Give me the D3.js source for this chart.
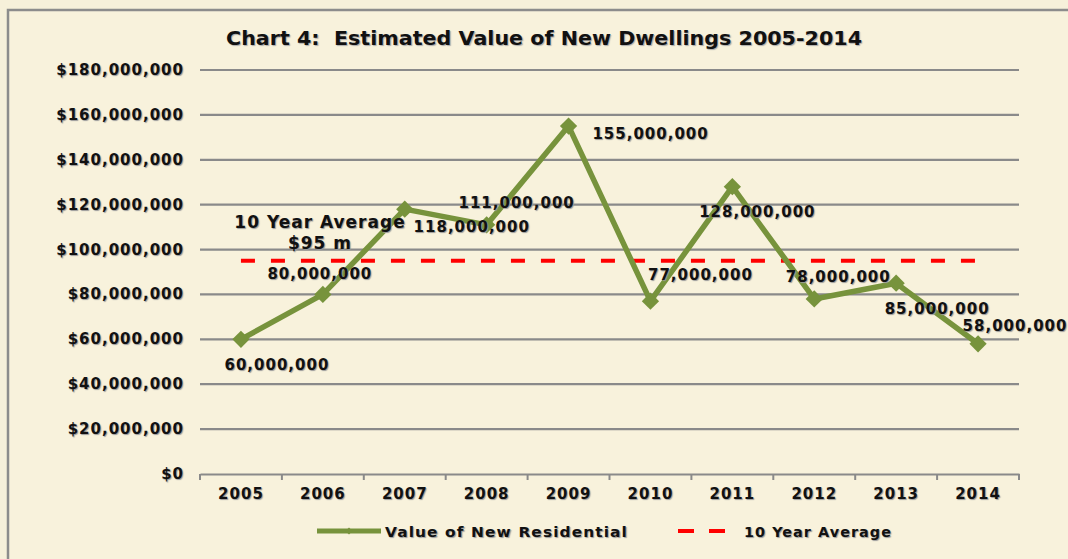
<!DOCTYPE html>
<html>
<head>
<meta charset="utf-8">
<script src="https://cdn.jsdelivr.net/npm/d3@7"></script>
<style>
  html, body { margin: 0; padding: 0; background: #f6f0da; }
  svg { display: block; font-family: "DejaVu Sans", sans-serif; }
  .lbl { text-shadow: 1px 1px 1px #9a9a9a; letter-spacing: 1px; }
</style>
</head>
<body>
<svg id="chart" width="1068" height="559"></svg>
<script>
const years = ["2005","2006","2007","2008","2009","2010","2011","2012","2013","2014"];
const values = [60000000, 80000000, 118000000, 111000000, 155000000, 77000000, 128000000, 78000000, 85000000, 58000000];
const average = 95000000;
const yTicks = [0, 20000000, 40000000, 60000000, 80000000, 100000000, 120000000, 140000000, 160000000, 180000000];
// label offsets from each point, as placed in the original
const labelOffsets = [[36, 26], [-3, -20], [67, 18], [30, -22], [82, 8], [50, -26], [25, 25], [24, -22], [41, 26], [37, -18]];

const svg = d3.select("#chart");
const green = "#77933c";
const red = "#ff0000";
const margin = {left: 200, right: 1019, top: 70, bottom: 474};

const x = d3.scaleBand().domain(years).range([margin.left, margin.right]);
const y = d3.scaleLinear().domain([0, 180000000]).range([margin.bottom, margin.top]);

// outer frame
svg.append("rect").attr("x", 8).attr("y", 10).attr("width", 1080).attr("height", 580)
  .attr("fill", "#f8f2dc").attr("stroke", "#8c8c8c").attr("stroke-width", 2.5);

svg.append("text").attr("x", 226).attr("y", 45)
  .attr("font-size", 19).attr("font-weight", "bold").attr("fill", "#111")
  .attr("textLength", 636).attr("lengthAdjust", "spacingAndGlyphs")
  .style("text-shadow", "1px 1px 1px #aaa").style("white-space", "pre")
  .text("Chart 4:  Estimated Value of New Dwellings 2005-2014");

// gridlines
svg.append("g").selectAll("line").data(yTicks.slice(1)).join("line")
  .attr("x1", margin.left).attr("x2", margin.right)
  .attr("y1", d => y(d)).attr("y2", d => y(d))
  .attr("stroke", "#8a8a8a").attr("stroke-width", 2.2);

// y axis labels
const fmt = d => "$" + d3.format(",")(d);
svg.append("g").selectAll("text").data(yTicks).join("text")
  .attr("class", "lbl")
  .attr("x", 184).attr("y", d => y(d) + 5).attr("text-anchor", "end")
  .attr("font-size", 15).attr("font-weight", "bold").attr("fill", "#111")
  .text(fmt);

// x axis
const xAxis = svg.append("g").attr("transform", `translate(0,${margin.bottom})`)
  .call(d3.axisBottom(x).tickSize(0).tickPadding(14));
xAxis.select(".domain").attr("stroke", "#8a8a8a").attr("stroke-width", 2.2);
xAxis.selectAll("text").attr("class", "lbl").attr("font-size", 15).attr("font-weight", "bold").attr("fill", "#111")
  .style("font-family", "DejaVu Sans, sans-serif");
const bounds = years.map(d => x(d)).concat([margin.right]);
xAxis.selectAll(".bound").data(bounds).join("line").attr("class", "bound")
  .attr("x1", d => d).attr("x2", d => d).attr("y1", 0).attr("y2", 6)
  .attr("stroke", "#8a8a8a").attr("stroke-width", 2);

const cx = d => x(d) + x.bandwidth() / 2;

// average line
svg.append("line")
  .attr("x1", cx(years[0])).attr("x2", cx(years[years.length - 1]))
  .attr("y1", y(average)).attr("y2", y(average))
  .attr("stroke", red).attr("stroke-width", 4).attr("stroke-dasharray", "14,16");

// series line
const line = d3.line().x((d, i) => cx(years[i])).y(d => y(d));
svg.append("path").datum(values).attr("d", line)
  .attr("fill", "none").attr("stroke", green).attr("stroke-width", 5.5).attr("stroke-linejoin", "round");

svg.append("g").selectAll("path").data(values).join("path")
  .attr("d", d3.symbol(d3.symbolDiamond2, 190))
  .attr("transform", (d, i) => `translate(${cx(years[i])},${y(d)})`)
  .attr("fill", green);

// point labels
svg.append("g").selectAll("text").data(values).join("text")
  .attr("class", "lbl")
  .attr("x", (d, i) => cx(years[i]) + labelOffsets[i][0])
  .attr("y", (d, i) => y(d) + labelOffsets[i][1] + 5)
  .attr("text-anchor", "middle").attr("font-size", 15).attr("font-weight", "bold").attr("fill", "#111")
  .text(d => d3.format(",")(d));

// average annotation
const ann = svg.append("text").attr("class", "lbl").attr("font-size", 17).attr("font-weight", "bold").attr("fill", "#111")
  .attr("text-anchor", "middle");
ann.append("tspan").attr("x", 320).attr("y", 228).text("10 Year Average");
ann.append("tspan").attr("x", 320).attr("y", 249).text("$95 m");

// legend
const lg = svg.append("g").attr("font-size", 14).attr("font-weight", "bold").attr("fill", "#111");
lg.append("line").attr("x1", 317).attr("x2", 381).attr("y1", 531).attr("y2", 531)
  .attr("stroke", green).attr("stroke-width", 5);
lg.append("path").attr("d", d3.symbol(d3.symbolDiamond2, 30))
  .attr("transform", "translate(349,531)").attr("fill", green);
lg.append("text").attr("class", "lbl").attr("x", 385).attr("y", 537)
  .attr("textLength", 243).attr("lengthAdjust", "spacingAndGlyphs")
  .text("Value of New Residential");
lg.append("line").attr("x1", 678).attr("x2", 725).attr("y1", 531).attr("y2", 531)
  .attr("stroke", red).attr("stroke-width", 4).attr("stroke-dasharray", "16,15");
lg.append("text").attr("class", "lbl").attr("x", 744).attr("y", 537)
  .attr("textLength", 148).attr("lengthAdjust", "spacingAndGlyphs")
  .text("10 Year Average");
</script>
</body>
</html>
